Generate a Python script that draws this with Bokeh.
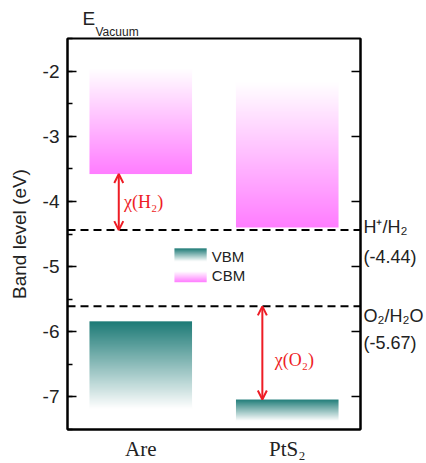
import numpy as np
from bokeh.plotting import figure
from bokeh.models import (Range1d, LinearAxis, SingleIntervalTicker, FixedTicker,
                          Span, Arrow, OpenHead, Title, PrintfTickFormatter)
from bokeh.core.properties import value
from bokeh.embed import file_html
from bokeh.resources import INLINE

# ---------------- data ----------------
materials = ["Are", "PtS₂"]
cbm = [-3.58, -4.40]            # conduction band minimum (bar bottom)
cbm_fade_top = [-1.97, -2.17]   # where the CBM gradient fades to white
vbm = [-5.84, -7.04]            # valence band maximum (bar top)
vbm_fade_bottom = [-7.18, -7.37]

redox_levels = [-4.44, -5.61]
redox_names = ["H⁺/H₂", "O₂/H₂O"]
redox_values = ["(-4.44)", "(-5.67)"]

chi_labels = ["χ(H₂)", "χ(O₂)"]
chi_x = [0.35, 1.33]
chi_from = [cbm[0], redox_levels[1]]
chi_to = [redox_levels[0], vbm[1]]

legend_labels = ["VBM", "CBM"]
y_ticks = [-7, -6, -5, -4, -3, -2]

# ---------------- styles ----------------
TEAL = (28, 122, 118)
PINK = (255, 125, 255)
RED = "#ee1c25"
INK = "#222222"
SANS = "Liberation Sans"
SERIF = "Liberation Serif"
BAR_W = 0.7


def gradient(rgb, full_at_top, n=256):
    t = np.linspace(0.0, 1.0, n)  # row 0 is the bottom of the image
    if not full_at_top:
        t = 1.0 - t
    img = np.empty((n, 2), dtype=np.uint32)
    view = img.view(dtype=np.uint8).reshape((n, 2, 4))
    for k in range(3):
        view[:, :, k] = np.round(255 + (rgb[k] - 255) * t)[:, None]
    view[:, :, 3] = 255
    return img


p = figure(width=426, height=463, x_range=Range1d(0, 2), y_range=Range1d(-7.5, -1.5),
           output_backend="svg", toolbar_location=None,
           min_border_left=67, min_border_right=65, min_border_top=38, min_border_bottom=32)
p.xgrid.visible = False
p.ygrid.visible = False
p.outline_line_color = "black"
p.outline_line_width = 2
p.outline_line_alpha = 1

centers = [i + 0.5 for i in range(len(materials))]

# gradient bars
imgs, xs, ys, dws, dhs = [], [], [], [], []
for i, c in enumerate(centers):
    imgs.append(gradient(PINK, full_at_top=False))
    xs.append(c - BAR_W / 2); ys.append(cbm[i]); dws.append(BAR_W); dhs.append(cbm_fade_top[i] - cbm[i])
    imgs.append(gradient(TEAL, full_at_top=True))
    xs.append(c - BAR_W / 2); ys.append(vbm_fade_bottom[i]); dws.append(BAR_W); dhs.append(vbm[i] - vbm_fade_bottom[i])

# legend swatches
LEG_X0, LEG_W = 0.73, 0.22
imgs.append(gradient(TEAL, full_at_top=True)); xs.append(LEG_X0); ys.append(-4.92); dws.append(LEG_W); dhs.append(0.20)
imgs.append(gradient(PINK, full_at_top=False)); xs.append(LEG_X0); ys.append(-5.24); dws.append(LEG_W); dhs.append(0.16)

p.image_rgba(image=imgs, x=xs, y=ys, dw=dws, dh=dhs)

p.text(x=[LEG_X0 + LEG_W + 0.035] * 2, y=[-4.84, -5.13], text=legend_labels,
       text_font=value(SANS), text_font_size="15px", text_color=INK,
       text_baseline="middle", text_align="left")

# redox levels
for lvl in redox_levels:
    p.add_layout(Span(location=lvl, dimension="width", line_color="black",
                      line_width=2, line_dash="8 5"))

# chi arrows
chi_dx = [0.035, 0.085]
chi_dy = [0.0, -0.11]
for i in range(len(chi_labels)):
    p.add_layout(Arrow(start=OpenHead(size=9, line_color=RED, line_width=2),
                       end=OpenHead(size=9, line_color=RED, line_width=2),
                       x_start=chi_x[i], y_start=chi_from[i], x_end=chi_x[i], y_end=chi_to[i],
                       line_color=RED, line_width=2))
p.text(x=[x + d for x, d in zip(chi_x, chi_dx)],
       y=[(a + b) / 2 + d for a, b, d in zip(chi_from, chi_to, chi_dy)],
       text=chi_labels, text_font=value(SERIF), text_font_size="18px",
       text_color=RED, text_baseline="middle", text_align="left")

# E_Vacuum as two titles in the top panel ("Vacuum" nearest the frame)
p.add_layout(Title(text="Vacuum", align="left", offset=28, standoff=0, vertical_align="bottom",
                   text_font=SANS, text_font_size="12px", text_font_style="normal",
                   text_color=INK), "above")
p.add_layout(Title(text="E", align="left", offset=15, standoff=-12, vertical_align="bottom",
                   text_font=SANS, text_font_size="19px", text_font_style="normal",
                   text_color=INK), "above")

# left axis
ya = p.yaxis[0]
ya.ticker = SingleIntervalTicker(interval=1, num_minor_ticks=2)
ya.formatter = PrintfTickFormatter(format="%d")
ya.major_tick_in = 9
ya.major_tick_out = 0
ya.minor_tick_in = 5
ya.minor_tick_out = 0
ya.major_tick_line_width = 1.5
ya.minor_tick_line_width = 1.5
ya.axis_line_width = 2
ya.major_label_text_font = SANS
ya.major_label_text_font_size = "19px"
ya.major_label_text_color = INK
ya.major_label_standoff = 8
ya.axis_label = "Band level (eV)"
ya.axis_label_text_font = SANS
ya.axis_label_text_font_size = "19px"
ya.axis_label_text_font_style = "normal"
ya.axis_label_text_color = INK
ya.axis_label_standoff = 10

# right axis: integer tick marks (as minor ticks) + redox labels (as label-only major ticks)
name_dy = [0.045, -0.145]
val_dy = [-0.414, -0.557]
label_pos, label_txt = [], []
for i, lvl in enumerate(redox_levels):
    label_pos += [round(lvl + name_dy[i], 3), round(lvl + val_dy[i], 3)]
    label_txt += [redox_names[i], redox_values[i]]
ra = LinearAxis(ticker=FixedTicker(ticks=label_pos, minor_ticks=y_ticks),
                major_tick_in=0, major_tick_out=0, major_tick_line_color=None,
                minor_tick_in=9, minor_tick_out=0, minor_tick_line_width=1.5,
                axis_line_width=2, major_label_standoff=3,
                major_label_overrides={pos: t for pos, t in zip(label_pos, label_txt)},
                major_label_text_font=SANS, major_label_text_font_size="18px",
                major_label_text_color=INK)
p.add_layout(ra, "right")

# bottom axis
xa = p.xaxis[0]
xa.ticker = FixedTicker(ticks=centers)
xa.major_label_overrides = {c: m for c, m in zip(centers, materials)}
xa.major_tick_line_color = None
xa.major_tick_in = 0
xa.major_tick_out = 0
xa.minor_tick_line_color = None
xa.minor_tick_in = 0
xa.minor_tick_out = 0
xa.axis_line_width = 2
xa.major_label_text_font = SERIF
xa.major_label_text_font_size = "21px"
xa.major_label_text_color = INK
xa.major_label_standoff = 7

open("out.html", "w").write(file_html(p, INLINE))
